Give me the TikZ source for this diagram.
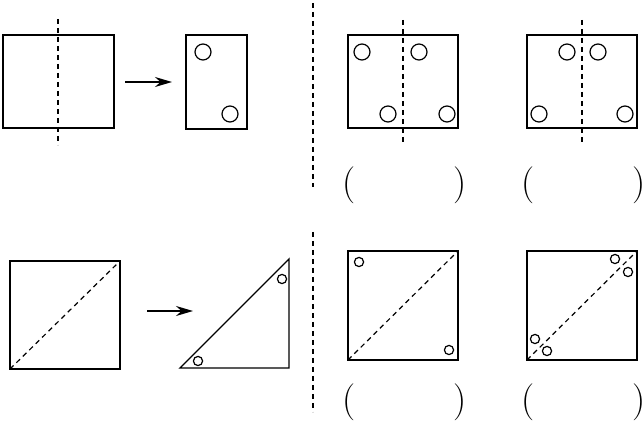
\documentclass[tikz,border=0pt]{standalone}
\usetikzlibrary{arrows.meta}
\begin{document}
\begin{tikzpicture}[x=0.5pt, y=-0.5pt, line width=0.7pt,
    fold/.style={dash pattern=on 2.5pt off 2pt, line width=0.6pt},
    bighole/.style={circle, draw, line width=0.6pt, minimum size=8pt, inner sep=0pt},
    smallhole/.style={circle, draw, line width=0.6pt, minimum size=4.6pt, inner sep=0pt},
    blank/.style={font=\fontsize{18.5}{18.5}\selectfont, inner sep=0pt},
    push/.style={line width=0.8pt, -{Stealth[length=8.5pt,width=5pt]}}]
    \useasboundingbox (0,0) rectangle (643,422);
    % top row: fold and punch
    \draw (3,35) rectangle (114,128);
    \draw[fold] (58,19) -- (58,145);
    \coordinate (a1) at (125,82);
    \coordinate (a2) at (172,82);
    \draw[push] (a1) -- (a2);
    \draw (186,35) rectangle (247,129);
    \node[bighole] (h1) at (203,52) {};
    \node[bighole] (h2) at (230,114) {};
    \draw[fold] (313,3) -- (313,187);
    \foreach \x/\f in {348/403, 527/582} {
        \draw (\x,35) rectangle ++(110,93);
        \draw[fold] (\f,20) -- (\f,145);
    }
    \foreach \i/\x/\y in {1/362/52, 2/419/52, 3/388/114, 4/447/114,
                          5/567/52, 6/598/52, 7/539/114, 8/625/114} {
        \node[bighole] (c\i) at (\x,\y) {};
    }
    % bottom row: diagonal fold
    \draw (10,261) rectangle (120,369);
    \draw[fold] (10,369) -- (120,261);
    \coordinate (b1) at (147,311);
    \coordinate (b2) at (193,311);
    \draw[push] (b1) -- (b2);
    \draw (180,368) -- (289,368) -- (289,259) -- cycle;
    \node[smallhole] (t1) at (198,361) {};
    \node[smallhole] (t2) at (282,279) {};
    \draw[fold] (313,232) -- (313,412);
    \foreach \x in {348, 527} {
        \draw (\x,251) rectangle ++(110,109);
        \draw[fold] (\x,360) -- ++(110,-109);
    }
    \foreach \i/\x/\y in {1/359/262, 2/449/350,
                          3/615/259, 4/628/272, 5/535/339, 6/547/351} {
        \node[smallhole] (d\i) at (\x,\y) {};
    }
    % answer brackets
    \foreach \i/\x/\y in {1/405/185, 2/584/185, 3/405/402, 4/584/402} {
        \node[blank] (p\i) at (\x,\y) {(\hspace{49pt})};
    }
\end{tikzpicture}
\end{document}
